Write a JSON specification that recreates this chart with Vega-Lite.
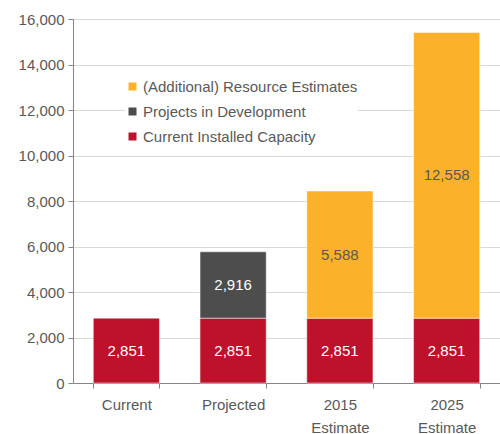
{
  "$schema": "https://vega.github.io/schema/vega-lite/v6.json",
  "width": 427,
  "height": 364,
  "autosize": {"type": "none"},
  "padding": {"left": 73, "top": 19, "right": 0, "bottom": 51},
  "background": "white",
  "config": {
    "font": "Liberation Sans",
    "view": {"stroke": null}
  },
  "data": {
    "values": [
      {"category": "Current", "series": "Current Installed Capacity", "order": 1, "value": 2851},
      {"category": "Projected", "series": "Current Installed Capacity", "order": 1, "value": 2851},
      {"category": "Projected", "series": "Projects in Development", "order": 2, "value": 2916},
      {"category": "2015 Estimate", "series": "Current Installed Capacity", "order": 1, "value": 2851},
      {"category": "2015 Estimate", "series": "(Additional) Resource Estimates", "order": 3, "value": 5588},
      {"category": "2025 Estimate", "series": "Current Installed Capacity", "order": 1, "value": 2851},
      {"category": "2025 Estimate", "series": "(Additional) Resource Estimates", "order": 3, "value": 12558}
    ]
  },
  "transform": [
    {"stack": "value", "groupby": ["category"], "sort": [{"field": "order", "order": "ascending"}], "as": ["y0", "y1"]},
    {"calculate": "(datum.y0 + datum.y1) / 2", "as": "ymid"}
  ],
  "encoding": {
    "x": {
      "field": "category",
      "type": "nominal",
      "sort": ["Current", "Projected", "2015 Estimate", "2025 Estimate"],
      "scale": {"paddingInner": 0.38, "paddingOuter": 0.19},
      "axis": {
        "title": null,
        "labelAngle": 0,
        "labelExpr": "indexof(datum.label, ' ') > 0 ? split(datum.label, ' ') : datum.label",
        "labelFontSize": 15,
        "labelColor": "#595959",
        "labelPadding": 16,
        "labelLineHeight": 23,
        "labelBaseline": "middle",
        "ticks": true,
        "tickSize": 5,
        "tickColor": "#868686",
        "tickBand": "extent",
        "domainColor": "#868686",
        "grid": false
      }
    }
  },
  "layer": [
    {
      "mark": {"type": "bar", "stroke": "white", "strokeWidth": 0.5},
      "encoding": {
        "y": {
          "field": "y1",
          "type": "quantitative",
          "scale": {"domain": [0, 16000], "nice": false},
          "axis": {
            "title": null,
            "values": [0, 2000, 4000, 6000, 8000, 10000, 12000, 14000, 16000],
            "format": ",.0f",
            "labelFontSize": 15,
            "labelColor": "#595959",
            "labelPadding": 4,
            "tickSize": 5,
            "tickColor": "#868686",
            "domainColor": "#868686",
            "gridColor": "#d9d9d9"
          }
        },
        "y2": {"field": "y0"},
        "color": {
          "field": "series",
          "type": "nominal",
          "scale": {
            "domain": ["(Additional) Resource Estimates", "Projects in Development", "Current Installed Capacity"],
            "range": ["#FBB22A", "#4D4D4D", "#BE112B"]
          },
          "legend": {
            "title": null,
            "orient": "none",
            "legendX": 52,
            "legendY": 60,
            "symbolType": "square",
            "symbolSize": 64,
            "symbolStrokeWidth": 0,
            "labelFontSize": 15,
            "labelColor": "#595959",
            "labelLimit": 400,
            "rowPadding": 9,
            "labelOffset": 3,
            "fillColor": "white"
          }
        }
      }
    },
    {
      "mark": {"type": "text", "fontSize": 15, "baseline": "middle", "align": "center"},
      "encoding": {
        "y": {"field": "ymid", "type": "quantitative"},
        "text": {"field": "value", "type": "quantitative", "format": ",.0f"},
        "color": {
          "condition": {"test": "datum.series == '(Additional) Resource Estimates'", "value": "#595959"},
          "value": "white"
        }
      }
    }
  ]
}
